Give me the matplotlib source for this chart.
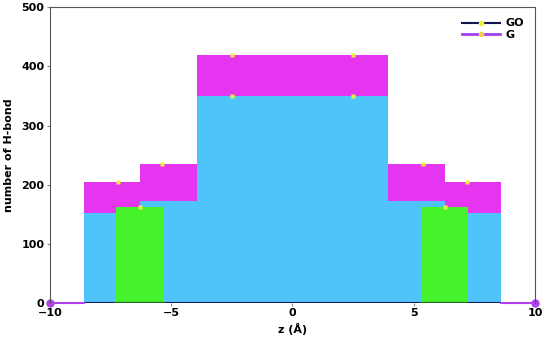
import numpy as np
import matplotlib
matplotlib.use("Agg")
import matplotlib.pyplot as plt

# G series (magenta), points drawn as steps-mid
g_z = [-10, -7.2, -5.4, -2.5, 2.5, 5.4, 7.2, 10]
g_n = [0, 205, 235, 420, 420, 235, 205, 0]
# GO series (light blue fill), same bins
go_n = [0, 152, 172, 350, 350, 172, 152, 0]
# green blocks
green_left = [-7.28, 5.29]
green_width = [1.94, 1.93]
green_n = [162, 162]
# marker positions
g_mark_z = [-7.2, -5.4, -2.5, 2.5, 5.4, 7.2]
g_mark_n = [205, 235, 420, 420, 235, 205]
go_mark_z = [-6.3, -2.5, 2.5, 6.3]
go_mark_n = [163, 350, 350, 163]

def step_edges(z, n):
    z = np.array(z, float)
    mids = (z[:-1] + z[1:]) / 2
    xs = [z[0]]
    ys = [n[0]]
    for i, m in enumerate(mids):
        xs += [m, m]
        ys += [n[i], n[i + 1]]
    xs.append(z[-1])
    ys.append(n[-1])
    return np.array(xs), np.array(ys)

fig = plt.figure(figsize=(5.47, 3.40), dpi=100)
ax = fig.add_axes([0.0914, 0.109, 0.8866, 0.8695])

gx, gy = step_edges(g_z, g_n)
ax.fill_between(gx, 0, gy, color='#e535f0', lw=0)
ox, oy = step_edges(g_z, go_n)
ax.fill_between(ox, 0, oy, color='#4fc4fa', lw=0)
ax.bar(green_left, green_n, width=green_width, align='edge', color='#45f22c', lw=0)

ax.plot([-8.6, 8.6], [0, 0], color='#1a1a5a', lw=1.5)
ax.plot([-5.3, -7.3], [0, 0], color='#1f6a1f', lw=1.5)
ax.plot([5.3, 7.2], [0, 0], color='#1f6a1f', lw=1.5)
ax.plot([-10, -8.6], [0, 0], color='#b040f0', lw=1.5, clip_on=False)
ax.plot([8.6, 10], [0, 0], color='#b040f0', lw=1.5, clip_on=False)
ax.plot([-10, 10], [0, 0], 'o', color='#b040f0', ms=5, clip_on=False)

ax.plot(g_mark_z, g_mark_n, 's', color='#f0f040', ms=3.5, mec='none')
ax.plot(go_mark_z, go_mark_n, 's', color='#e8f040', ms=3.5, mec='none')

ax.plot([], [], color='#141450', lw=1.5, marker='o', mfc='#f0f040', mec='none', ms=4, label='GO')
ax.plot([], [], color='#a040f0', lw=2, marker='o', mfc='#f0d040', mec='none', ms=4, label='G')
leg = ax.legend(loc='upper right', frameon=False, prop={'weight': 'bold', 'size': 8},
                handlelength=3.4, handletextpad=0.5, labelspacing=0.15,
                borderaxespad=0.6)

ax.set_xlim(-10, 10)
ax.set_ylim(0, 500)
ax.set_xticks([-10, -5, 0, 5, 10])
ax.set_yticks([0, 100, 200, 300, 400, 500])
for lab in ax.get_xticklabels() + ax.get_yticklabels():
    lab.set_fontweight('bold')
ax.tick_params(labelsize=8, length=2, color='#888888', pad=2)
for s in ax.spines.values():
    s.set_color('#555555')
ax.spines['bottom'].set_visible(False)
ax.set_xlabel('z (Å)', fontweight='bold', fontsize=8, labelpad=3)
ax.set_ylabel('number of H-bond', fontweight='bold', fontsize=8, labelpad=5)

fig.savefig('out.png', dpi=100)
